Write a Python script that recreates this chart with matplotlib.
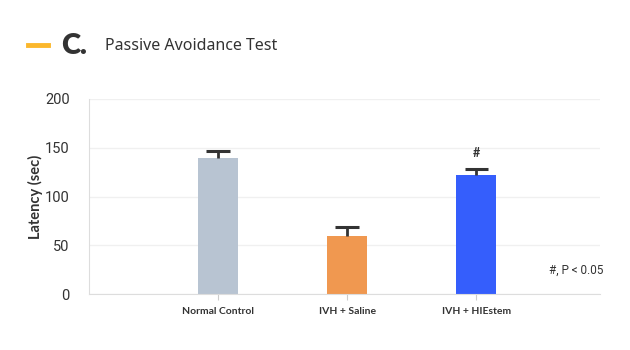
import matplotlib
matplotlib.use("Agg")
import matplotlib.pyplot as plt
from matplotlib.lines import Line2D

# data
groups = ["Normal Control", "IVH + Saline", "IVH + HIEstem"]
latency = [140, 60, 122]
sem = [7, 9, 6]
colors = ["#b8c4d2", "#f09850", "#355efc"]
marks = ["", "", "#"]

fig = plt.figure(figsize=(6.3, 3.5), dpi=100)
ax = fig.add_axes([89 / 630, 1 - 294 / 350, 511 / 630, 195 / 350])

x = list(range(len(groups)))
ax.bar(x, latency, width=0.31, color=colors, zorder=2)
# upper half error bar only
tops = [v + e for v, e in zip(latency, sem)]
ax.vlines(x, latency, tops, color="#333333", linewidth=2, zorder=3)
ax.hlines(tops, [xi - 0.09 for xi in x], [xi + 0.09 for xi in x],
          color="#333333", linewidth=2.2, zorder=3)
for xi, t, m in zip(x, tops, marks):
    if m:
        ax.text(xi, t + 10, m, ha="center", va="bottom", fontsize=9,
                color="#333333", fontfamily="Lato", fontweight="bold")

ax.set_xlim(-1, 2.96)
ax.set_ylim(0, 200)
ax.set_yticks([0, 50, 100, 150, 200])
ax.grid(axis="y", color="#f0f0f0", linewidth=1, zorder=0)
for s in ["top", "right"]:
    ax.spines[s].set_visible(False)
for s in ["left", "bottom"]:
    ax.spines[s].set_color("#dddddd")
ax.tick_params(axis="y", length=0, labelsize=10.5, labelcolor="#333333", pad=14)
ax.tick_params(axis="x", length=4, color="#cccccc", pad=5)
for lab in ax.get_yticklabels():
    lab.set_fontfamily("Roboto")
ax.set_xticks(x)
ax.set_xticklabels(groups, fontsize=7.5, fontweight="bold", color="#333333",
                   fontfamily="Lato")
ax.set_ylabel("Latency (sec)", fontsize=10.5, fontweight="bold", color="#333333",
              fontfamily="Lato", labelpad=1)

fig.text(603 / 630, 1 - 270 / 350, "#, P < 0.05", ha="right", va="center",
         fontsize=8.5, color="#333333", fontfamily="Roboto")

# header
fig.add_artist(Line2D([28 / 630, 48 / 630], [1 - 45 / 350] * 2, color="#fbb72c",
                      linewidth=3.5, transform=fig.transFigure))
fig.text(61 / 630, 1 - 46 / 350, "C.", ha="left", va="center", fontsize=21,
         fontweight="heavy", color="#333333", fontfamily="Lato")
fig.text(105 / 630, 1 - 46 / 350, "Passive Avoidance Test", ha="left", va="center",
         fontsize=11.5, color="#333333", fontfamily="Noto Sans")

fig.savefig("out.png", dpi=100)
